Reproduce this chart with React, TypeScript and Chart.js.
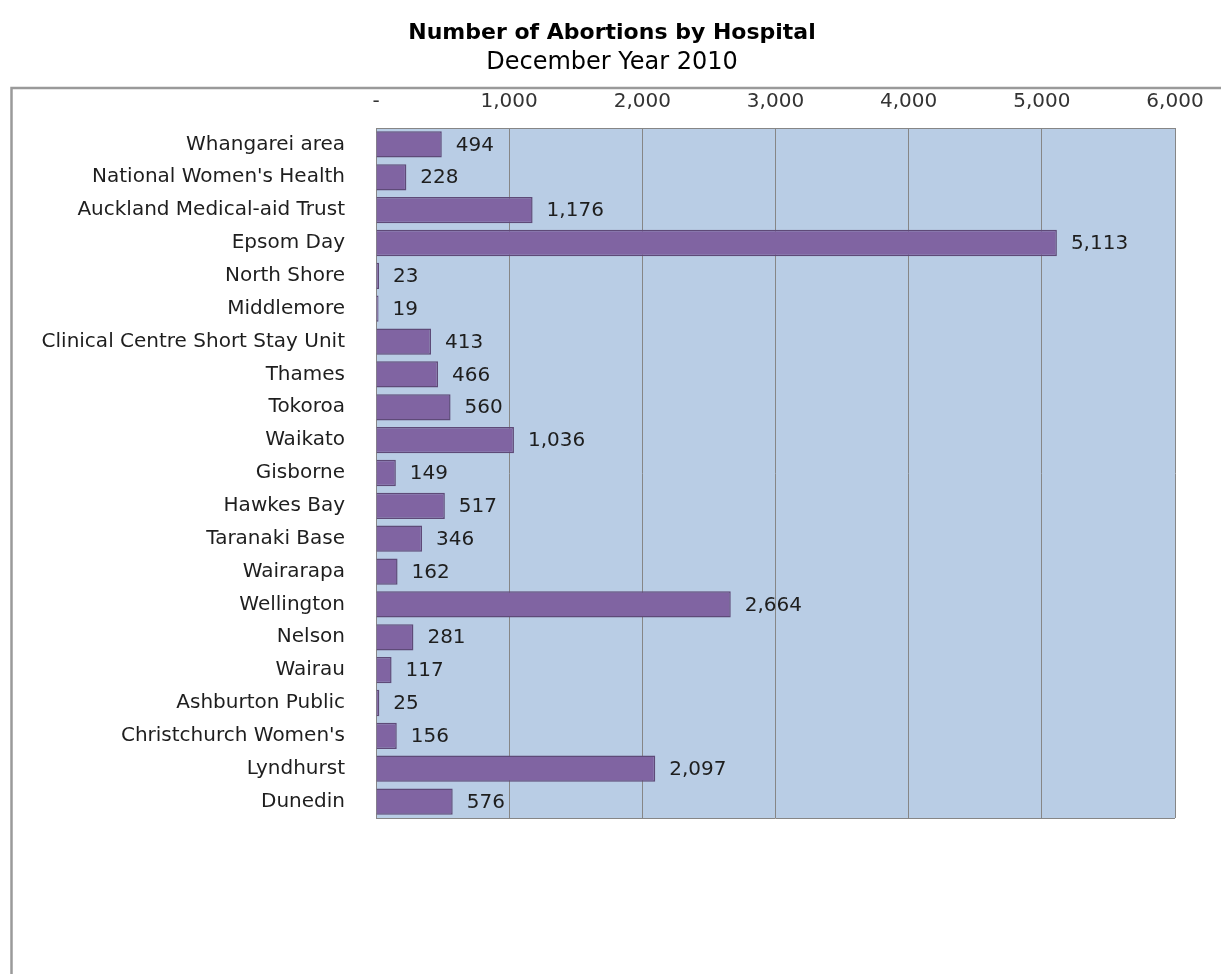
import React, { useEffect, useRef } from "react";
import { Chart, registerables } from "chart.js";

Chart.register(...registerables);

const hospitals = [
  "Whangarei area",
  "National Women's Health",
  "Auckland Medical-aid Trust",
  "Epsom Day",
  "North Shore",
  "Middlemore",
  "Clinical Centre Short Stay Unit",
  "Thames",
  "Tokoroa",
  "Waikato",
  "Gisborne",
  "Hawkes Bay",
  "Taranaki Base",
  "Wairarapa",
  "Wellington",
  "Nelson",
  "Wairau",
  "Ashburton Public",
  "Christchurch Women's",
  "Lyndhurst",
  "Dunedin",
];

const abortions = [494, 228, 1176, 5113, 23, 19, 413, 466, 560, 1036, 149, 517, 346, 162, 2664, 281, 117, 25, 156, 2097, 576];

const titleText = "Number of Abortions by Hospital";
const subtitleText = "December Year 2010";

const FONT = "'DejaVu Sans', 'Noto Sans', sans-serif";

const fmt = (v: number) => (v === 0 ? "-" : v.toLocaleString("en-US"));

const decorPlugin = {
  id: "decor",
  beforeDraw(chart: any) {
    const { ctx, chartArea } = chart;
    ctx.save();
    // outer frame
    ctx.strokeStyle = "#9a9a9a";
    ctx.lineWidth = 2.5;
    ctx.strokeRect(11.5, 88, 1300, 1000);
    // plot background
    ctx.fillStyle = "#B9CDE5";
    ctx.fillRect(chartArea.left, chartArea.top, chartArea.right - chartArea.left, chartArea.bottom - chartArea.top);
    // titles
    ctx.fillStyle = "#000";
    ctx.textAlign = "center";
    ctx.textBaseline = "middle";
    ctx.font = `bold 22px ${FONT}`;
    ctx.fillText(titleText, 612, 33);
    ctx.font = `24px ${FONT}`;
    ctx.fillText(subtitleText, 612, 63);
    ctx.restore();
  },
  afterDatasetsDraw(chart: any) {
    const { ctx, chartArea } = chart;
    ctx.save();
    ctx.strokeStyle = "#868686";
    ctx.lineWidth = 1;
    ctx.beginPath();
    ctx.moveTo(chartArea.left, chartArea.bottom + 0.5);
    ctx.lineTo(chartArea.right, chartArea.bottom + 0.5);
    ctx.stroke();
    const meta = chart.getDatasetMeta(0);
    ctx.fillStyle = "#1e1e1e";
    ctx.font = `20px ${FONT}`;
    ctx.textAlign = "left";
    ctx.textBaseline = "middle";
    meta.data.forEach((bar: any, i: number) => {
      ctx.fillText(fmt(abortions[i]), bar.x + 14, bar.y + 1);
    });
    ctx.restore();
  },
};

export default function App() {
  const ref = useRef<HTMLCanvasElement>(null);
  useEffect(() => {
    const chart = new Chart(ref.current!, {
      type: "bar",
      data: {
        labels: hospitals,
        datasets: [
          {
            data: abortions,
            backgroundColor: "#8064A2",
            borderColor: "#5E4A78",
            borderWidth: 1.5,
            barPercentage: 0.8,
            categoryPercentage: 1,
          },
        ],
      },
      options: {
        indexAxis: "y",
        animation: false,
        responsive: false,
        layout: { padding: { left: 0, right: 46, top: 88, bottom: 156 } },
        plugins: { legend: { display: false }, tooltip: { enabled: false }, title: { display: false } },
        scales: {
          x: {
            position: "top",
            min: 0,
            max: 6000,
            afterFit: (s: any) => {
              s.height = 40;
            },
            ticks: {
              stepSize: 1000,
              padding: 14,
              color: "#333",
              font: { family: FONT, size: 20 },
              callback: (v: any) => fmt(Number(v)),
            },
            grid: { color: "#868686", lineWidth: 1, drawTicks: false },
            border: { display: true, color: "#868686" },
          },
          y: {
            afterFit: (s: any) => {
              s.width = 376;
            },
            ticks: {
              padding: 31,
              color: "#1e1e1e",
              font: { family: FONT, size: 20 },
              autoSkip: false,
            },
            grid: { display: false, drawTicks: false },
            border: { display: true, color: "#868686" },
          },
        },
      },
      plugins: [decorPlugin],
    });
    return () => chart.destroy();
  }, []);
  return (
    <div style={{ position: "absolute", left: 0, top: 0, width: 1221, height: 974, background: "#fff" }}>
      <canvas ref={ref} width={1221} height={974} style={{ display: "block" }} />
    </div>
  );
}
